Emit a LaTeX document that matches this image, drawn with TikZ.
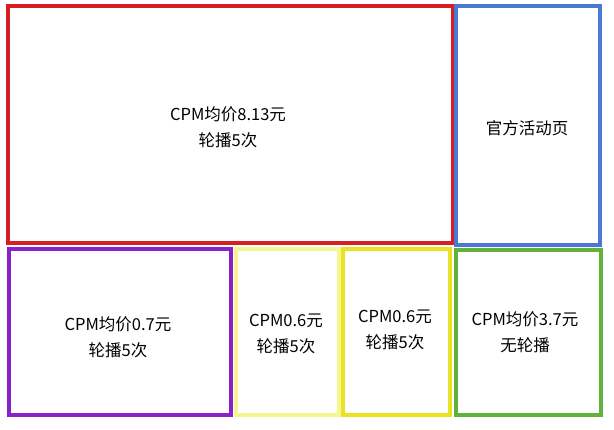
\documentclass[tikz,border=0pt]{standalone}
\usepackage{fontspec}
\setmainfont{Noto Sans CJK SC}
\definecolor{redbox}{HTML}{D71E22}
\definecolor{bluebox}{HTML}{4A78D2}
\definecolor{purplebox}{HTML}{8A22C8}
\definecolor{paleyellow}{HTML}{F6F690}
\definecolor{yellowbox}{HTML}{E9E324}
\definecolor{greenbox}{HTML}{60B23C}
\tikzset{
  adbox/.style={line width=3.5pt},
  adtext/.style={align=center, font=\fontsize{16.5}{26}\selectfont}
}
\begin{document}
\begin{tikzpicture}[x=1pt, y=-1pt]
\useasboundingbox (0,0) rectangle (614,429);
%
\draw[adbox, redbox] (8,6) rectangle (453,243);
\node[adtext] (top) at (228,127) {CPM均价8.13元\\轮播5次};
%
\draw[adbox, bluebox] (456,6) rectangle (600,245);
\node[adtext] (official) at (527,128) {官方活动页};
%
\draw[adbox, purplebox] (9,249) rectangle (231,415);
\node[adtext] (left) at (118,337) {CPM均价0.7元\\轮播5次};
%
\draw[adbox, paleyellow] (236,249) rectangle (339,415);
\node[adtext] (midA) at (286,334) {CPM0.6元\\轮播5次};
%
\draw[adbox, yellowbox] (343,249) rectangle (450,415);
\node[adtext] (midB) at (395,330) {CPM0.6元\\轮播5次};
%
\draw[adbox, greenbox] (456,250) rectangle (601,415);
\node[adtext] (right) at (525,332) {CPM均价3.7元\\无轮播};
%
\end{tikzpicture}
\end{document}
